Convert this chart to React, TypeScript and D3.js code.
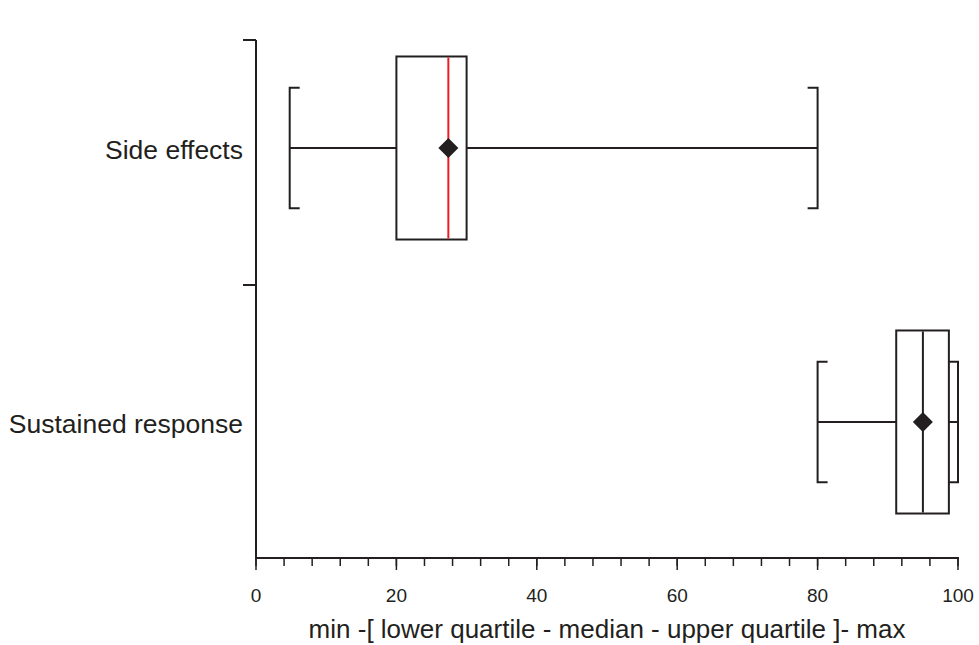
import React, { useEffect, useRef } from "react";
import * as d3 from "d3";

const categories = ["Side effects", "Sustained response"];
const minValues = [4.8, 80];
const q1Values = [20, 91.2];
const medianValues = [27.4, 95];
const q3Values = [30, 98.7];
const maxValues = [80, 100];
const meanValues = [27.4, 95];
const medianColors = ["#ed1c24", "#231f20"];
const xTicks = [0, 20, 40, 60, 80, 100];
const xTitle = "min -[ lower quartile - median - upper quartile ]- max";

export default function App() {
  const ref = useRef<SVGSVGElement>(null);
  useEffect(() => {
    const svg = d3.select(ref.current);
    svg.selectAll("*").remove();
    const ink = "#231f20";
    const font = "'Liberation Sans', Arial, sans-serif";
    const x = d3.scaleLinear().domain([0, 100]).range([256, 958]);
    const y = d3.scaleBand<string>().domain(categories).range([11, 559]).padding(0);
    const bw = y.bandwidth();
    const boxH = bw * 0.668;
    const capH = bw * 0.22;
    const capW = 10;

    // axes
    svg.append("line").attr("x1", 256).attr("x2", 256).attr("y1", 40).attr("y2", 559)
      .attr("stroke", ink).attr("stroke-width", 2);
    svg.append("line").attr("x1", 255).attr("x2", 959).attr("y1", 558).attr("y2", 558)
      .attr("stroke", ink).attr("stroke-width", 2);
    // y ticks at band boundaries
    [40, y(categories[1])!].forEach((yy) => {
      svg.append("line").attr("x1", 243).attr("x2", 256).attr("y1", yy).attr("y2", yy)
        .attr("stroke", ink).attr("stroke-width", 2);
    });
    // x ticks
    d3.range(0, 101, 4).forEach((v) => {
      svg.append("line").attr("x1", x(v)).attr("x2", x(v)).attr("y1", 558).attr("y2", 566)
        .attr("stroke", ink).attr("stroke-width", 1.5);
    });
    xTicks.forEach((v) => {
      svg.append("line").attr("x1", x(v)).attr("x2", x(v)).attr("y1", 558).attr("y2", 570)
        .attr("stroke", ink).attr("stroke-width", 1.5);
      svg.append("text").attr("x", x(v)).attr("y", 601.5).attr("text-anchor", "middle")
        .attr("font-family", font).attr("font-size", 19).attr("fill", ink).text(String(v));
    });
    svg.append("text").attr("x", 607).attr("y", 638).attr("text-anchor", "middle")
      .attr("font-family", font).attr("font-size", 26).attr("fill", ink).text(xTitle);

    categories.forEach((c, i) => {
      const cy = y(c)! + bw / 2;
      svg.append("text").attr("x", 243).attr("y", cy).attr("dy", "0.4em").attr("text-anchor", "end")
        .attr("font-family", font).attr("font-size", 26.5).attr("fill", ink).text(c);
      const g = svg.append("g").attr("stroke", ink).attr("stroke-width", 2).attr("fill", "none");
      // whiskers
      g.append("line").attr("x1", x(minValues[i])).attr("x2", x(q1Values[i])).attr("y1", cy).attr("y2", cy);
      g.append("line").attr("x1", x(q3Values[i])).attr("x2", x(maxValues[i])).attr("y1", cy).attr("y2", cy);
      // caps
      g.append("path").attr("d",
        `M${x(minValues[i]) + capW},${cy - capH}H${x(minValues[i])}V${cy + capH}H${x(minValues[i]) + capW}`);
      g.append("path").attr("d",
        `M${x(maxValues[i]) - capW},${cy - capH}H${x(maxValues[i])}V${cy + capH}H${x(maxValues[i]) - capW}`);
      // box
      g.append("rect").attr("x", x(q1Values[i])).attr("y", cy - boxH / 2)
        .attr("width", x(q3Values[i]) - x(q1Values[i])).attr("height", boxH).attr("fill", "white");
      // median
      g.append("line").attr("x1", x(medianValues[i])).attr("x2", x(medianValues[i]))
        .attr("y1", cy - boxH / 2 + 1).attr("y2", cy + boxH / 2 - 1).attr("stroke", medianColors[i]);
      // mean diamond
      const mx = x(meanValues[i]);
      svg.append("path").attr("d", `M${mx - 10},${cy}L${mx},${cy - 10}L${mx + 10},${cy}L${mx},${cy + 10}Z`)
        .attr("fill", ink);
    });
  }, []);
  return <svg ref={ref} width={979} height={645} style={{ display: "block", position: "absolute", left: 0, top: 0 }} />;
}
